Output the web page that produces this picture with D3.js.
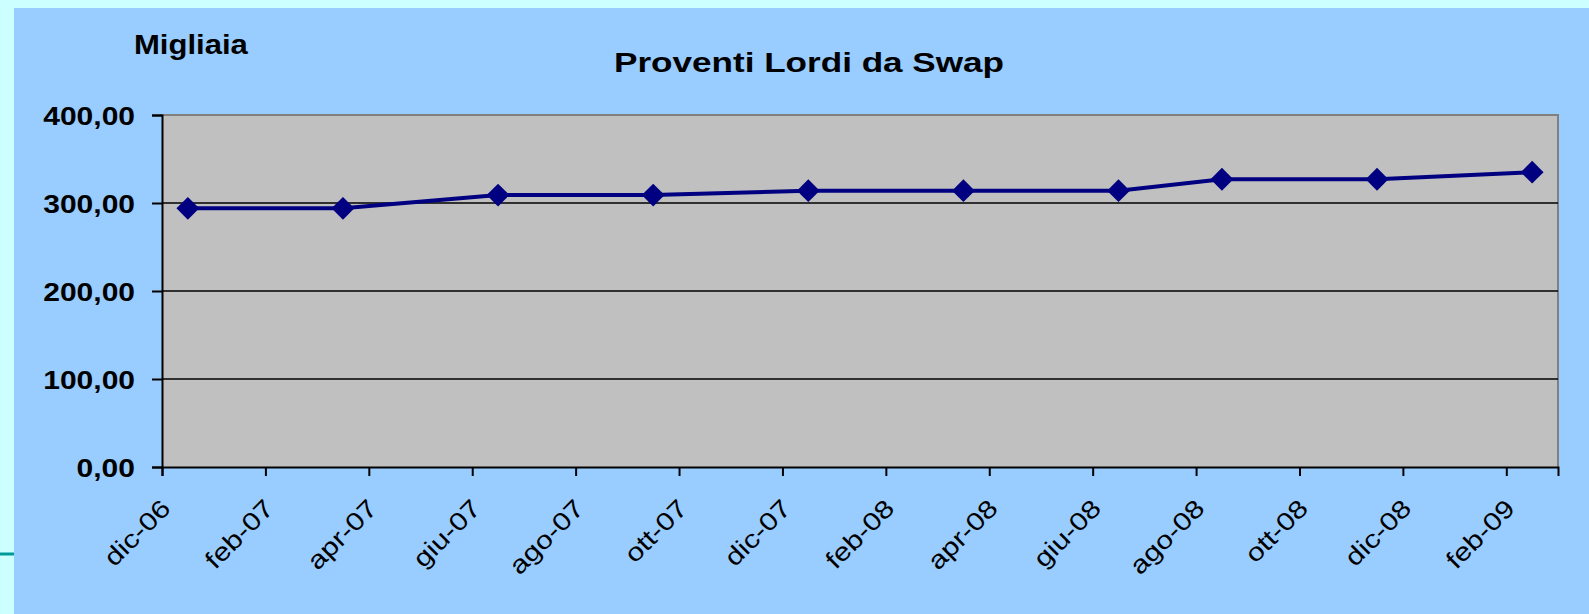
<!DOCTYPE html>
<html>
<head>
<meta charset="utf-8">
<script src="https://cdn.jsdelivr.net/npm/d3@7/dist/d3.min.js"></script>
<style>
  body { margin: 0; background: #CCFFFF; }
  svg { display: block; font-family: "Liberation Sans", Arial, sans-serif; }
</style>
</head>
<body>
<div id="chart"></div>
<script>
// data (thousands of euro)
var months = ["2006-12", "2007-03", "2007-06", "2007-09", "2007-12",
              "2008-03", "2008-06", "2008-08", "2008-11", "2009-02"];
var proventi = [294, 294, 309, 309, 314, 314, 314, 327, 327, 335];
var tickLabels = ["dic-06", "feb-07", "apr-07", "giu-07", "ago-07", "ott-07", "dic-07",
                  "feb-08", "apr-08", "giu-08", "ago-08", "ott-08", "dic-08", "feb-09"];
var yTicks = [0, 100, 200, 300, 400];

var width = 1589, height = 614;
var margin = {top: 115, right: 31, bottom: 147, left: 162};
var plotW = width - margin.left - margin.right,
    plotH = height - margin.top - margin.bottom;

// months counted from dic-06, points sit mid-month
function monthIndex(s) {
  var p = s.split("-");
  return (+p[0] - 2006) * 12 + (+p[1] - 12) + 0.5;
}
var data = months.map(function(m, i) { return {x: monthIndex(m), v: proventi[i]}; });

var it = d3.formatLocale({decimal: ",", thousands: ".", grouping: [3], currency: ["€", ""]});
var fmt = it.format(".2f");

var x = d3.scaleLinear().domain([0, 27]).range([0, plotW]);
var y = d3.scaleLinear().domain([0, 400]).range([plotH, 0]);

var svg = d3.select("#chart").append("svg")
    .attr("width", width)
    .attr("height", height);

// outer slide background
svg.append("rect").attr("x", 14).attr("y", 8)
    .attr("width", width - 14).attr("height", height - 8)
    .attr("fill", "#99CCFF");
svg.append("line").attr("x1", 0).attr("x2", 14).attr("y1", 554).attr("y2", 554)
    .attr("stroke", "#009999").attr("stroke-width", 3);

// stretch text horizontally like the original
function stretch(sel, k) {
  sel.each(function() {
    var w = this.getComputedTextLength();
    this.setAttribute("textLength", w * k);
    this.setAttribute("lengthAdjust", "spacingAndGlyphs");
  });
}

var g = svg.append("g").attr("transform", "translate(" + margin.left + "," + margin.top + ")");

// plot area
g.append("rect").attr("width", plotW).attr("height", plotH)
    .attr("fill", "#C0C0C0");
g.append("path")
    .attr("d", "M0,0H" + plotW + "V" + plotH)
    .attr("fill", "none").attr("stroke", "#808080").attr("stroke-width", 2);

// gridlines
g.selectAll(".grid").data(yTicks.filter(function(d) { return d > 0 && d < 400; }))
  .enter().append("line")
    .attr("x1", 0).attr("x2", plotW)
    .attr("y1", function(d) { return y(d); }).attr("y2", function(d) { return y(d); })
    .attr("stroke", "#000").attr("stroke-width", 1.5);

// y axis
var yAxis = g.append("g")
    .call(d3.axisLeft(y).tickValues(yTicks).tickSize(10).tickPadding(17).tickFormat(fmt));
yAxis.select(".domain").attr("stroke", "#000").attr("stroke-width", 2);
yAxis.selectAll(".tick line").attr("stroke", "#000").attr("stroke-width", 2);
yAxis.selectAll("text")
    .attr("fill", "#000").attr("font-size", 25).attr("font-weight", "bold")
    .attr("font-family", "Liberation Sans, Arial, sans-serif")
    .attr("dy", "0.36em");
stretch(yAxis.selectAll("text"), 1.2);

// x axis
var xAxis = g.append("g").attr("transform", "translate(0," + plotH + ")")
    .call(d3.axisBottom(x).tickValues(d3.range(0, 27, 2)).tickSize(9).tickFormat(""));
xAxis.select(".domain").attr("stroke", "#000").attr("stroke-width", 2);
xAxis.selectAll(".tick line").attr("stroke", "#000").attr("stroke-width", 2);

var xl = g.selectAll(".xlab").data(tickLabels).enter().append("text")
    .attr("class", "xlab")
    .attr("transform", function(d, i) {
      return "translate(" + (x(i * 2) + 10) + "," + (plotH + 43) + ") rotate(-45)";
    })
    .attr("text-anchor", "end")
    .attr("font-size", 25)
    .attr("fill", "#000")
    .text(function(d) { return d; });
stretch(xl, 1.2);

// series
var line = d3.line().x(function(d) { return x(d.x); }).y(function(d) { return y(d.v); });
g.append("path").datum(data)
    .attr("d", line)
    .attr("fill", "none").attr("stroke", "#000080").attr("stroke-width", 4);

g.selectAll(".pt").data(data).enter().append("path")
    .attr("class", "pt")
    .attr("transform", function(d) { return "translate(" + x(d.x) + "," + y(d.v) + ") rotate(45)"; })
    .attr("d", d3.symbol(d3.symbolSquare, 260))
    .attr("fill", "#000080");

// titles
var title = svg.append("text").attr("x", 809).attr("y", 72)
    .attr("text-anchor", "middle").attr("font-size", 27).attr("font-weight", "bold")
    .text("Proventi Lordi da Swap");
stretch(title, 1.3);

var unit = svg.append("text").attr("x", 134).attr("y", 54)
    .attr("font-size", 27).attr("font-weight", "bold")
    .text("Migliaia");
stretch(unit, 1.15);
</script>
</body>
</html>
